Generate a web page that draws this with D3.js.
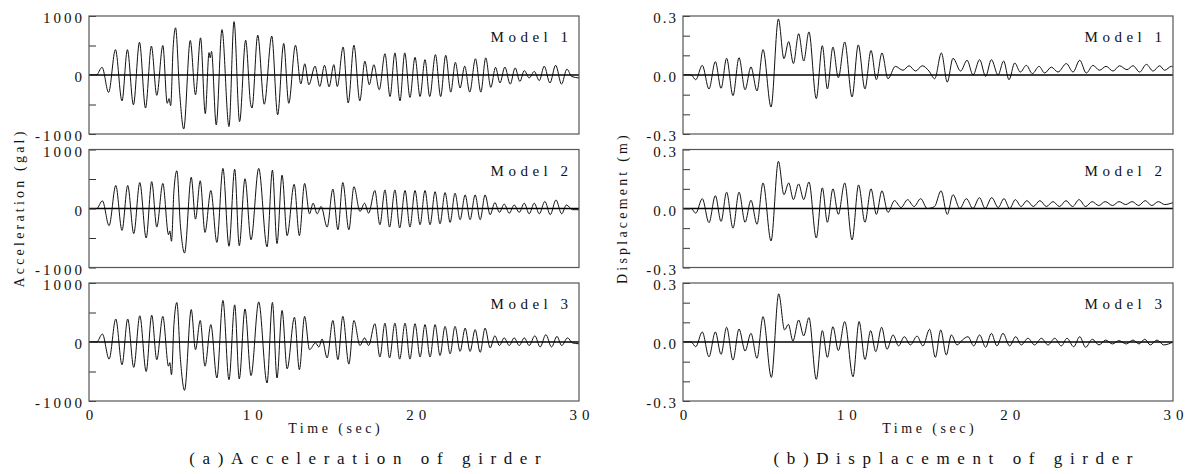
<!DOCTYPE html>
<html>
<head>
<meta charset="utf-8">
<script src="https://cdn.jsdelivr.net/npm/d3@7"></script>
<style>
  body { margin: 0; background: #fff; }
  text { font-family: "Liberation Serif", "Times New Roman", serif; fill: #111; }
</style>
</head>
<body>
<div id="chart"></div>
<script>
// ---- data: [time (sec), value] at the turning points ----
const modelNames = ["Model 1", "Model 2", "Model 3"];
const timeTicks = [0, 10, 20, 30];
const accTicks = [-1000, -500, 0, 500, 1000];
const accTickLabels = ["-1000", "", "0", "", "1000"];
const dispTicks = [-0.3, -0.2, -0.1, 0, 0.1, 0.2, 0.3];
const dispTickLabels = ["-0.3", "", "", "0.0", "", "", "0.3"];

const accM1 = [[0,0],[0.45,0],[0.8,130],[1.2,-295],[1.62,430],[2.02,-440],[2.35,430],[2.72,-505],[3.09,555],[3.46,-560],[3.82,490],[4.15,-345],[4.52,500],[4.79,-480],[4.9,-400],[5.0,-520],[5.15,460],[5.3,800],[5.55,-300],[5.8,-915],[6.2,585],[6.52,-335],[6.83,630],[7.12,-655],[7.35,380],[7.42,290],[7.5,400],[7.79,-845],[8.14,770],[8.57,-875],[8.88,905],[9.22,-790],[9.59,590],[9.9,-500],[9.98,-560],[10.33,675],[10.73,-495],[11.19,660],[11.55,-675],[11.92,535],[12.23,-480],[12.64,505],[12.97,-150],[13.21,190],[13.46,-165],[13.84,150],[14.13,-195],[14.42,165],[14.7,-200],[14.99,175],[15.2,-195],[15.56,475],[15.87,-475],[16.22,505],[16.58,-440],[16.89,235],[17.16,-165],[17.44,175],[17.77,-250],[18.12,360],[18.43,-365],[18.73,375],[19.04,-440],[19.33,375],[19.65,-380],[19.96,300],[20.27,-365],[20.57,260],[20.86,-365],[21.21,345],[21.53,-365],[21.84,335],[22.15,-290],[22.43,215],[22.72,-220],[23.0,150],[23.31,-290],[23.66,275],[23.99,-290],[24.29,290],[24.6,-210],[24.89,130],[25.16,-135],[25.46,135],[25.79,-155],[26.09,120],[26.38,-110],[26.65,75],[26.95,-50],[27.26,60],[27.57,-95],[27.87,150],[28.22,-135],[28.57,165],[28.93,-155],[29.26,100],[29.55,-25],[30,-50]];

const accM2 = [[0,0],[0.47,0],[0.82,130],[1.23,-290],[1.64,390],[2.02,-370],[2.37,390],[2.74,-425],[3.11,440],[3.5,-500],[3.84,455],[4.15,-315],[4.52,425],[4.87,-445],[4.95,-380],[5.05,-555],[5.2,300],[5.38,640],[5.6,-300],[5.85,-755],[6.26,530],[6.52,-180],[6.81,470],[7.1,-405],[7.46,305],[7.83,-575],[8.2,680],[8.57,-640],[8.92,665],[9.2,-630],[9.55,505],[9.92,-530],[10.39,680],[10.9,-650],[11.23,650],[11.51,-595],[11.82,565],[12.13,-460],[12.56,410],[12.88,-460],[13.2,425],[13.5,-90],[13.72,90],[13.97,-90],[14.21,35],[14.58,-315],[14.93,330],[15.24,-360],[15.54,440],[15.91,-360],[16.22,370],[16.59,-50],[16.87,90],[17.12,-80],[17.5,305],[17.81,-275],[18.12,315],[18.4,-315],[18.73,315],[19.02,-330],[19.35,305],[19.65,-315],[19.96,305],[20.27,-275],[20.57,305],[20.88,-275],[21.19,285],[21.49,-260],[21.8,270],[22.11,-235],[22.41,260],[22.72,-190],[23.03,230],[23.33,-190],[23.64,230],[23.95,-190],[24.25,230],[24.56,-105],[24.85,100],[25.13,-65],[25.42,75],[25.73,-80],[26.03,60],[26.34,-65],[26.65,90],[26.95,-90],[27.26,90],[27.57,-90],[27.91,120],[28.24,-105],[28.59,145],[28.94,-90],[29.23,60],[29.6,-20],[30,-20]];

const accM3 = [[0,0],[0.47,0],[0.82,135],[1.23,-290],[1.64,390],[2.02,-385],[2.37,390],[2.74,-430],[3.11,445],[3.5,-500],[3.84,455],[4.15,-300],[4.52,435],[4.87,-410],[4.95,-350],[5.05,-555],[5.2,300],[5.38,670],[5.6,-300],[5.85,-820],[6.26,550],[6.52,-130],[6.81,365],[7.1,-410],[7.46,295],[7.83,-610],[8.2,705],[8.57,-640],[8.92,630],[9.2,-625],[9.55,560],[9.92,-570],[10.39,680],[10.9,-695],[11.23,670],[11.51,-610],[11.82,535],[12.13,-455],[12.58,420],[12.88,-470],[13.2,435],[13.5,-130],[13.87,-15],[14.07,-85],[14.27,50],[14.58,-270],[14.93,365],[15.24,-300],[15.54,435],[15.91,-375],[16.22,365],[16.59,-60],[16.87,70],[17.12,-60],[17.5,310],[17.81,-255],[18.12,320],[18.4,-270],[18.73,320],[19.02,-290],[19.35,320],[19.65,-290],[19.96,310],[20.27,-255],[20.57,295],[20.88,-255],[21.19,295],[21.49,-230],[21.8,265],[22.11,-200],[22.41,265],[22.72,-160],[23.03,235],[23.33,-160],[23.64,210],[23.95,-175],[24.25,235],[24.56,-100],[24.85,105],[25.13,-60],[25.42,70],[25.73,-60],[26.03,70],[26.34,-60],[26.65,70],[26.95,-60],[27.3,105],[27.62,-85],[27.97,125],[28.32,-85],[28.65,95],[28.94,-60],[29.3,70],[29.6,-15],[30,-30]];

const dispM1 = [[0,0],[0.5,0],[0.78,-0.024],[1.18,0.049],[1.59,-0.071],[1.98,0.068],[2.33,-0.068],[2.67,0.085],[3.06,-0.105],[3.43,0.088],[3.8,-0.075],[4.16,0.041],[4.53,-0.081],[4.9,0.129],[5.39,-0.163],[5.84,0.285],[6.18,0.083],[6.47,0.17],[6.76,0.058],[7.08,0.21],[7.39,0.071],[7.71,0.219],[8.16,-0.12],[8.53,0.149],[8.84,-0.071],[9.18,0.142],[9.51,-0.014],[9.9,0.168],[10.35,-0.112],[10.73,0.153],[11.14,-0.071],[11.51,0.125],[11.84,-0.024],[12.18,0.112],[12.55,-0.019],[13.0,0.044],[13.47,0.024],[13.84,0.047],[14.24,0.02],[14.65,0.047],[15.06,0.02],[15.41,-0.019],[15.82,0.112],[16.18,-0.036],[16.53,0.085],[17.0,0.02],[17.39,0.075],[17.76,0.0],[18.16,0.078],[18.53,-0.007],[18.88,0.078],[19.29,0.0],[19.63,0.071],[19.96,-0.024],[20.31,0.061],[20.65,0.015],[21.02,0.049],[21.39,0.007],[21.8,0.044],[22.14,0.01],[22.55,0.04],[22.96,0.015],[23.47,0.058],[23.88,0.015],[24.29,0.075],[24.69,0.01],[25.1,0.049],[25.5,0.024],[25.9,0.044],[26.33,0.02],[26.73,0.047],[27.18,0.027],[27.55,0.047],[27.96,0.015],[28.37,0.054],[28.78,0.02],[29.18,0.047],[29.49,0.024],[29.9,0.044],[30,0.04]];

const dispM2 = [[0,0],[0.5,0],[0.78,-0.024],[1.18,0.05],[1.59,-0.072],[1.98,0.065],[2.33,-0.066],[2.67,0.083],[3.06,-0.1],[3.43,0.083],[3.8,-0.07],[4.16,0.042],[4.53,-0.08],[4.9,0.13],[5.39,-0.165],[5.84,0.24],[6.18,0.07],[6.47,0.13],[6.76,0.045],[7.08,0.125],[7.39,0.045],[7.71,0.135],[8.16,-0.15],[8.53,0.105],[8.84,-0.07],[9.18,0.1],[9.51,-0.03],[9.9,0.13],[10.35,-0.16],[10.75,0.12],[11.14,-0.07],[11.51,0.1],[11.84,-0.03],[12.18,0.09],[12.55,-0.02],[12.95,0.04],[13.35,0.005],[13.75,0.045],[14.15,0.01],[14.55,0.05],[14.95,0.0],[15.4,0.01],[15.8,0.09],[16.18,-0.03],[16.53,0.07],[16.95,0.0],[17.35,0.05],[17.75,0.0],[18.15,0.055],[18.5,0.0],[18.9,0.055],[19.3,0.005],[19.65,0.05],[20.0,0.0],[20.35,0.045],[20.7,0.01],[21.05,0.04],[21.45,0.01],[21.85,0.04],[22.25,0.01],[22.65,0.035],[23.05,0.01],[23.45,0.04],[23.85,0.01],[24.25,0.045],[24.65,0.01],[25.05,0.035],[25.45,0.015],[25.85,0.035],[26.3,0.015],[26.7,0.035],[27.1,0.02],[27.5,0.035],[27.9,0.015],[28.3,0.04],[28.7,0.015],[29.1,0.035],[29.5,0.02],[30,0.03]];

const dispM3 = [[0,0],[0.5,0],[0.78,-0.024],[1.18,0.051],[1.59,-0.075],[1.98,0.051],[2.33,-0.063],[2.67,0.075],[3.06,-0.092],[3.43,0.066],[3.8,-0.046],[4.16,0.044],[4.53,-0.083],[4.9,0.129],[5.41,-0.18],[5.86,0.245],[6.22,0.061],[6.45,0.09],[6.73,0.005],[7.08,0.112],[7.39,0.031],[7.71,0.124],[8.16,-0.19],[8.53,0.058],[8.84,-0.078],[9.18,0.078],[9.51,-0.044],[9.9,0.104],[10.41,-0.177],[10.78,0.104],[11.14,-0.089],[11.49,0.058],[11.8,-0.049],[12.16,0.075],[12.49,-0.037],[12.86,0.036],[13.2,-0.02],[13.55,0.027],[13.92,-0.015],[14.33,0.03],[14.69,-0.02],[15.1,0.065],[15.45,-0.078],[15.78,0.061],[16.12,-0.066],[16.43,0.036],[16.78,-0.015],[17.1,0.01],[17.45,0.027],[17.8,-0.02],[18.16,0.036],[18.53,-0.027],[18.88,0.044],[19.22,-0.02],[19.59,0.044],[20.0,-0.02],[20.37,0.027],[20.71,-0.015],[21.12,0.019],[21.53,-0.015],[21.94,0.019],[22.35,-0.015],[22.76,0.019],[23.16,-0.02],[23.51,0.019],[23.92,-0.024],[24.29,0.027],[24.65,-0.027],[25.06,0.014],[25.47,-0.015],[25.88,0.01],[26.29,-0.01],[26.69,0.007],[27.14,-0.01],[27.55,0.01],[27.92,-0.01],[28.27,0.014],[28.61,-0.015],[29.02,0.01],[29.43,-0.015],[30,0.0]];

// ---- layout ----
const svg = d3.select("#chart").append("svg")
  .attr("width", 1189).attr("height", 474);

const panelTops = [16, 149.5, 283];
const panelH = 118;

const columns = [
  { left: 89,  right: 579, domain: [-1000, 1000], ticks: accTicks, labels: accTickLabels,
    series: [accM1, accM2, accM3], labelSpacing: 3,
    ylabel: "Acceleration  (gal)", ylabelX: 24,
    xlabelX: 334, caption: "(a)Acceleration of girder", captionX: 365 },
  { left: 683, right: 1173, domain: [-0.3, 0.3], ticks: dispTicks, labels: dispTickLabels,
    series: [dispM1, dispM2, dispM3], labelSpacing: 2,
    ylabel: "Displacement  (m)", ylabelX: 627,
    xlabelX: 928, caption: "(b)Displacement of girder", captionX: 953 }
];

columns.forEach(col => {
  let x = d3.scaleLinear().domain([0, 30]).range([col.left, col.right]);

  col.series.forEach((data, i) => {
    let top = panelTops[i];
    let y = d3.scaleLinear().domain(col.domain).range([top + panelH, top]);
    let g = svg.append("g");

    let clipId = "clip-" + col.left + "-" + i;
    g.append("clipPath").attr("id", clipId)
      .append("rect")
      .attr("x", col.left).attr("y", top)
      .attr("width", col.right - col.left).attr("height", panelH);

    // signal
    let line = d3.line()
      .x(d => x(d[0]))
      .y(d => y(d[1]))
      .curve(d3.curveMonotoneX);

    g.append("path")
      .datum(data)
      .attr("clip-path", `url(#${clipId})`)
      .attr("fill", "none")
      .attr("stroke", "#111")
      .attr("stroke-width", 1)
      .attr("d", line);

    // zero line
    g.append("line")
      .attr("x1", col.left).attr("x2", col.right)
      .attr("y1", y(0)).attr("y2", y(0))
      .attr("stroke", "#000").attr("stroke-width", 1.6);

    // y axis with inward ticks
    let yAxis = g.append("g")
      .attr("transform", `translate(${col.left},0)`)
      .call(d3.axisLeft(y).tickValues(col.ticks)
        .tickSize(-7).tickPadding(7)
        .tickFormat((d, k) => col.labels[k]));
    yAxis.select(".domain").remove();
    yAxis.selectAll("line").attr("stroke", "#333");
    yAxis.selectAll("text")
      .attr("font-size", 15)
      .attr("fill", "#111")
      .attr("dy", "0.45em")
      .attr("dx", col.labelSpacing)
      .attr("letter-spacing", col.labelSpacing)
      .style("font-family", "'Liberation Serif', serif");

    // frame
    g.append("rect")
      .attr("x", col.left).attr("y", top)
      .attr("width", col.right - col.left).attr("height", panelH)
      .attr("fill", "none")
      .attr("stroke", "#555").attr("stroke-width", 1.2);

    // model label
    g.append("text")
      .attr("x", col.right - 11 + 4.5)
      .attr("y", top + 26)
      .attr("text-anchor", "end")
      .attr("font-size", 15)
      .attr("letter-spacing", 4.5)
      .text(modelNames[i]);
  });

  // time axis labels under the bottom panel
  let xAxis = svg.append("g")
    .attr("transform", `translate(0,${panelTops[2] + panelH})`)
    .call(d3.axisBottom(x).tickValues(timeTicks).tickSize(0).tickPadding(8));
  xAxis.select(".domain").remove();
  xAxis.selectAll("text")
    .attr("font-size", 15)
    .attr("fill", "#111")
    .attr("dx", 2.5)
    .attr("letter-spacing", 5)
    .style("font-family", "'Liberation Serif', serif");

  svg.append("text")
    .attr("x", col.xlabelX + 1.7)
    .attr("y", 433)
    .attr("text-anchor", "middle")
    .attr("font-size", 14)
    .attr("letter-spacing", 3.5)
    .text("Time  (sec)");

  // y axis title
  svg.append("text")
    .attr("transform", `translate(${col.ylabelX},${208}) rotate(-90)`)
    .attr("text-anchor", "middle")
    .attr("font-size", 14)
    .attr("letter-spacing", 3.2)
    .text(col.ylabel);

  // caption
  svg.append("text")
    .attr("x", col.captionX + 3.8)
    .attr("y", 464)
    .attr("text-anchor", "middle")
    .attr("font-size", 17)
    .attr("letter-spacing", 7.6)
    .text(col.caption);
});
</script>
</body>
</html>
